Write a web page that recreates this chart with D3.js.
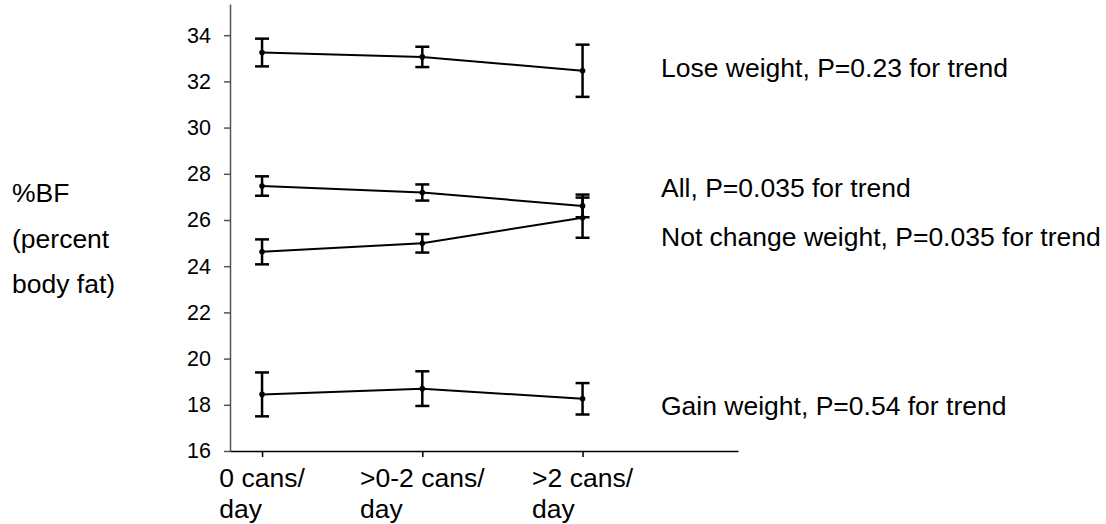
<!DOCTYPE html>
<html>
<head>
<meta charset="utf-8">
<script src="https://d3js.org/d3.v7.min.js"></script>
<style>
  body { margin: 0; background: #fff; }
  svg { display: block; font-family: "Liberation Sans", Arial, sans-serif; }
</style>
</head>
<body>
<script>
// categories (two-line labels)
const categories = [['0 cans/', 'day'], ['>0-2 cans/', 'day'], ['>2 cans/', 'day']];
const yTicks = [16, 18, 20, 22, 24, 26, 28, 30, 32, 34];
const yTitle = ['%BF', '(percent', 'body fat)'];

// series: mean %BF and half-width of error bar
const seriesNames = ['Lose weight, P=0.23 for trend', 'All, P=0.035 for trend',
                     'Not change weight, P=0.035 for trend', 'Gain weight, P=0.54 for trend'];
const loseMean = [33.25, 33.06, 32.46];
const loseErr = [0.60, 0.44, 1.13];
const allMean = [27.47, 27.19, 26.61];
const allErr = [0.42, 0.35, 0.49];
const notChangeMean = [24.62, 24.99, 26.10];
const notChangeErr = [0.54, 0.40, 0.87];
const gainMean = [18.45, 18.70, 18.26];
const gainErr = [0.95, 0.75, 0.68];
// where each series label sits, in %BF units
const labelAt = [32.19, 27.0, 24.87, 17.56];

const series = [
    { name: seriesNames[0], mean: loseMean, err: loseErr, label: labelAt[0] },
    { name: seriesNames[1], mean: allMean, err: allErr, label: labelAt[1] },
    { name: seriesNames[2], mean: notChangeMean, err: notChangeErr, label: labelAt[2] },
    { name: seriesNames[3], mean: gainMean, err: gainErr, label: labelAt[3] }
];

const W = 1106, H = 524;
const fs = 26.5;

const svg = d3.select('body').append('svg')
    .attr('width', W)
    .attr('height', H);

const x = d3.scaleLinear().domain([-0.2, 2.97]).range([230, 738]);
const y = d3.scaleLinear().domain([16, 35.35]).range([451, 4]);

// y axis
const yAxis = svg.append('g')
    .attr('transform', `translate(${x(-0.2)},0)`)
    .call(d3.axisLeft(y).tickValues(yTicks).tickSize(6).tickPadding(13).tickSizeOuter(0));
yAxis.selectAll('path, line').attr('stroke', '#555').attr('stroke-width', 1.5);
yAxis.selectAll('text').attr('font-size', 21.5).attr('fill', '#000')
    .attr('font-family', '"Liberation Sans", Arial, sans-serif');

// x axis
const xAxis = svg.append('g')
    .attr('transform', `translate(0,${y(16)})`)
    .call(d3.axisBottom(x).tickValues([0, 1, 2]).tickFormat('').tickSize(6).tickSizeOuter(0));
xAxis.selectAll('path, line').attr('stroke', '#000').attr('stroke-width', 1.5);

// x labels: left-aligned block centred on widest line
categories.forEach((lines, i) => {
    const t = svg.append('text')
        .attr('font-size', fs)
        .attr('fill', '#000');
    lines.forEach((s, j) => {
        t.append('tspan').attr('y', 487 + j * 31).text(s);
    });
    const wMax = d3.max(t.selectAll('tspan').nodes(), n => n.getComputedTextLength());
    t.selectAll('tspan').attr('x', x(i) - wMax / 2);
});

// y title
svg.append('g').selectAll('text')
    .data(yTitle)
    .join('text')
    .attr('x', 12)
    .attr('y', (d, i) => 202 + i * 45.5)
    .attr('font-size', fs)
    .attr('fill', '#000')
    .text(d => d);

// series
const line = d3.line()
    .x((d, i) => x(i))
    .y(d => y(d));

series.forEach(s => {
    const g = svg.append('g');
    g.append('path')
        .datum(s.mean)
        .attr('fill', 'none')
        .attr('stroke', '#000')
        .attr('stroke-width', 2)
        .attr('d', line);

    const bars = g.selectAll('.eb')
        .data(s.mean.map((m, i) => ({ i, m, e: s.err[i] })))
        .join('g')
        .attr('class', 'eb')
        .attr('stroke', '#000')
        .attr('stroke-width', 2.5);
    bars.append('line')
        .attr('x1', d => x(d.i)).attr('x2', d => x(d.i))
        .attr('y1', d => y(d.m - d.e)).attr('y2', d => y(d.m + d.e));
    bars.append('line')
        .attr('x1', d => x(d.i) - 7).attr('x2', d => x(d.i) + 7)
        .attr('y1', d => y(d.m + d.e)).attr('y2', d => y(d.m + d.e));
    bars.append('line')
        .attr('x1', d => x(d.i) - 7).attr('x2', d => x(d.i) + 7)
        .attr('y1', d => y(d.m - d.e)).attr('y2', d => y(d.m - d.e));

    g.selectAll('circle')
        .data(s.mean)
        .join('circle')
        .attr('cx', (d, i) => x(i))
        .attr('cy', d => y(d))
        .attr('r', 2.8)
        .attr('fill', '#000');

    svg.append('text')
        .attr('x', 661)
        .attr('y', y(s.label))
        .attr('font-size', fs)
        .attr('fill', '#000')
        .text(s.name);
});
</script>
</body>
</html>
